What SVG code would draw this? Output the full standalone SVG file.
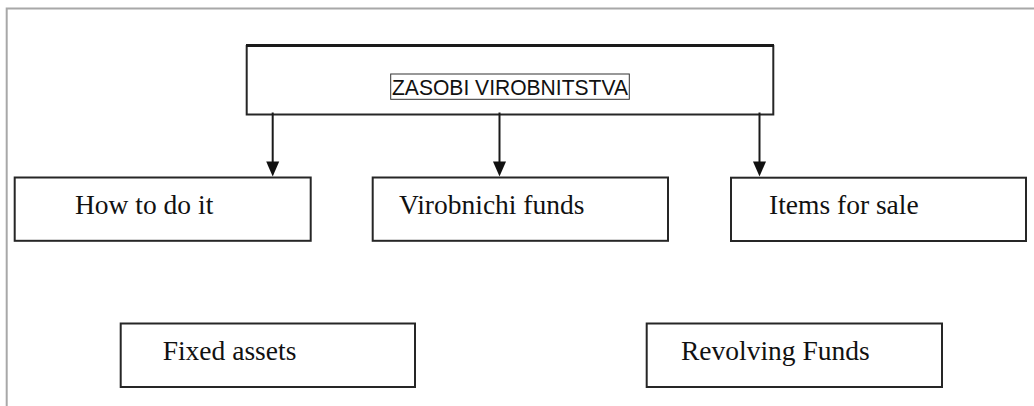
<svg xmlns="http://www.w3.org/2000/svg" width="1034" height="406" viewBox="0 0 1034 406">
  <style>
    .frame { fill: none; stroke: #a8a8a8; stroke-width: 2; }
    .box { fill: #ffffff; stroke: #262626; stroke-width: 2; }
    .label { font-family: "Liberation Serif", "Times New Roman", serif; font-size: 27.5px; fill: #111111; }
    .title { font-family: "Liberation Sans", Arial, sans-serif; font-size: 22px; fill: #111111; }
    .link { stroke: #1a1a1a; stroke-width: 2; fill: none; }
  </style>
  <defs>
    <marker id="arrowhead" viewBox="0 0 13 14" refX="6.5" refY="14" markerWidth="13" markerHeight="14" markerUnits="userSpaceOnUse" orient="auto-start-reverse">
      <path d="M0,0 L13,0 L6.5,14 Z" fill="#111111"/>
    </marker>
  </defs>

  <rect x="0" y="0" width="1034" height="406" fill="#ffffff"/>

  <!-- page frame: top and left rules only -->
  <path class="frame" d="M6.7,406 L6.7,8.5 L1034,8.5"/>

  <!-- top node -->
  <g id="node-zasobi">
    <rect class="box" x="246.7" y="46" width="526.6" height="68.5"/>
    <line x1="246" y1="45.5" x2="774" y2="45.5" stroke="#1a1a1a" stroke-width="3"/>
    <rect x="390.7" y="74" width="238.6" height="25.3" fill="#ffffff" stroke="#333333" stroke-width="1"/>
    <text class="title" x="392" y="95" textLength="236" lengthAdjust="spacingAndGlyphs">ZASOBI VIROBNITSTVA</text>
  </g>

  <!-- connectors -->
  <g id="connectors">
    <line class="link" x1="272.7" y1="112.5" x2="272.7" y2="162" />
    <path d="M266.2,161.5 L279.2,161.5 L272.7,176.5 Z" fill="#111111"/>
    <line class="link" x1="499.5" y1="112.5" x2="499.5" y2="162" />
    <path d="M493,161.5 L506,161.5 L499.5,176.5 Z" fill="#111111"/>
    <line class="link" x1="759.5" y1="112.5" x2="759.5" y2="162" />
    <path d="M753,161.5 L766,161.5 L759.5,176.5 Z" fill="#111111"/>
  </g>

  <!-- second row -->
  <g id="node-how-to-do-it">
    <rect class="box" x="14.7" y="177.5" width="296" height="63.3"/>
    <text class="label" x="75" y="213.5">How to do it</text>
  </g>
  <g id="node-virobnichi-funds">
    <rect class="box" x="372.7" y="177.5" width="295.3" height="63.3"/>
    <text class="label" x="399" y="213.5">Virobnichi funds</text>
  </g>
  <g id="node-items-for-sale">
    <rect class="box" x="731" y="177.7" width="295" height="63.3"/>
    <text class="label" x="769" y="213.5">Items for sale</text>
  </g>

  <!-- third row -->
  <g id="node-fixed-assets">
    <rect class="box" x="120.7" y="323.5" width="294.3" height="63.5"/>
    <text class="label" x="162.7" y="359.5">Fixed assets</text>
  </g>
  <g id="node-revolving-funds">
    <rect class="box" x="646.7" y="323.5" width="295.3" height="63.5"/>
    <text class="label" x="681" y="359.5">Revolving Funds</text>
  </g>
</svg>
